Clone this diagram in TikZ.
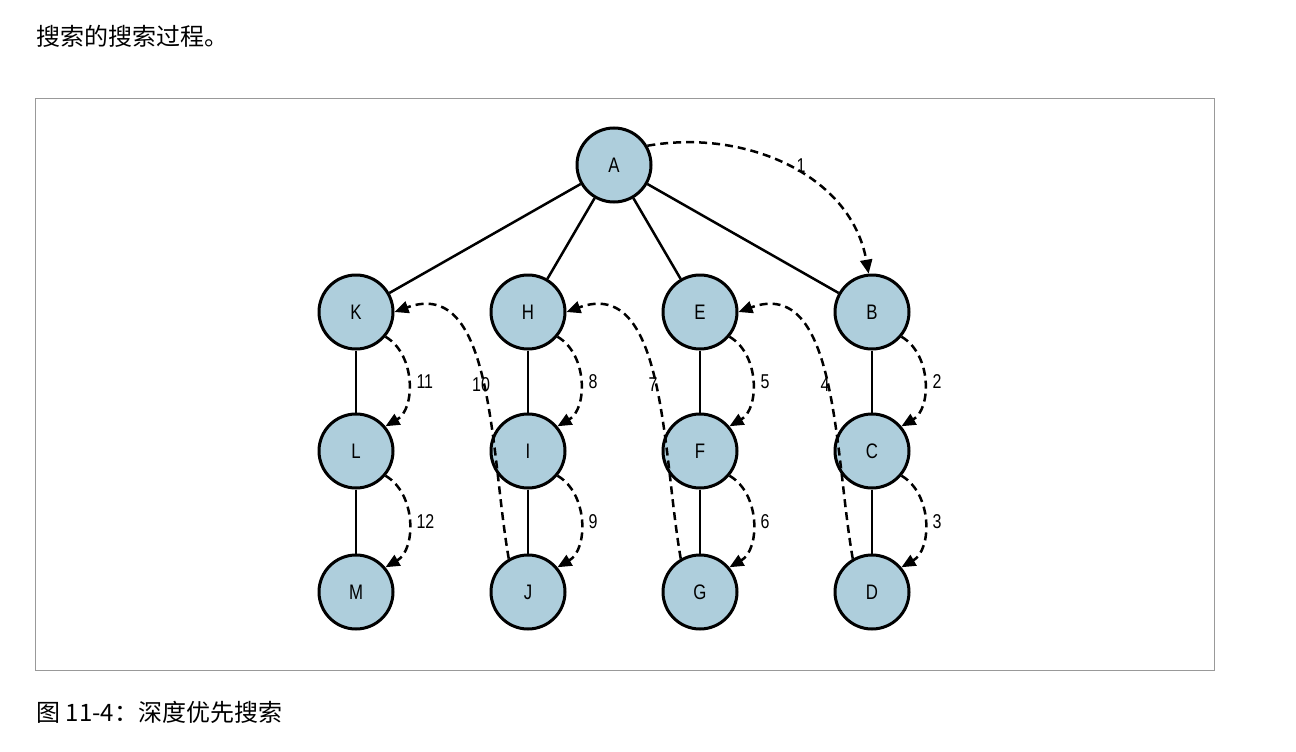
\documentclass[tikz,border=0pt]{standalone}
\usepackage{fontspec}
\setmainfont{Liberation Sans}[FakeStretch=0.8]
\newfontfamily\cjk{Noto Sans CJK SC}
\usetikzlibrary{arrows.meta}
\usetikzlibrary{calc}
\usetikzlibrary{positioning}
\tikzset{vert/.style={circle,draw=black,line width=3pt,fill=treeblue,minimum size=74pt,inner sep=0pt,font=\fontsize{21}{21}\selectfont}}
\tikzset{walk/.style={line width=2.5pt,dash pattern=on 8pt off 5pt,-{Triangle[length=14pt,width=12pt]}}}
\tikzset{stepnum/.style={font=\fontsize{20}{20}\selectfont}}
\definecolor{treeblue}{RGB}{174,206,220}
\begin{document}
\begin{tikzpicture}[x=1pt,y=-1pt]
  \useasboundingbox (0,0) rectangle (1296,752);
  \node[anchor=west,font=\cjk\fontsize{24}{24}\selectfont] (head) at (33,36) {搜索的搜索过程。};
  \node[anchor=west,font=\cjk\fontsize{24}{24}\selectfont] (cap) at (33,712) {图 11-4：深度优先搜索};
  \draw[gray!80] (35,98) rectangle (1214,670);

  % the tree
  \node[vert] (A) at (614,165) {A};
  \foreach \n/\x in {K/356,H/528,E/700,B/872} {
    \node[vert] (\n) at (\x,312) {\n};
    \draw[line width=2.5pt] (A) -- (\n);
  }
  \foreach \t/\m/\b/\x in {K/L/M/356,H/I/J/528,E/F/G/700,B/C/D/872} {
    \node[vert] (\m) at (\x,451) {\m};
    \node[vert] (\b) at (\x,592) {\b};
    \draw[line width=2.5pt] (\t) -- (\m);
    \draw[line width=2.5pt] (\m) -- (\b);
  }

  % depth first walk
  \draw[walk] (A.30) to[out=10,in=100] (B.95);
  \node[stepnum] (s1) at (801,166) {1};
  \foreach \p/\c/\k in {B/C/2,C/D/3,E/F/5,F/G/6,H/I/8,I/J/9,K/L/11,L/M/12} {
    \draw[walk] (\p.-40) to[out=-30,in=30] (\c.40);
    \node[stepnum,anchor=west] (s\k) at ($(\p)!0.5!(\c)+(57,0)$) {\k};
  }
  \foreach \f/\t/\k in {D/E/4,G/H/7,J/K/10} {
    \draw[walk] (\f.120) to[out=100,in=20] (\t.0);
    \node[stepnum] (s\k) at ($(\t)+(125,73)$) {\k};
  }
\end{tikzpicture}
\end{document}
